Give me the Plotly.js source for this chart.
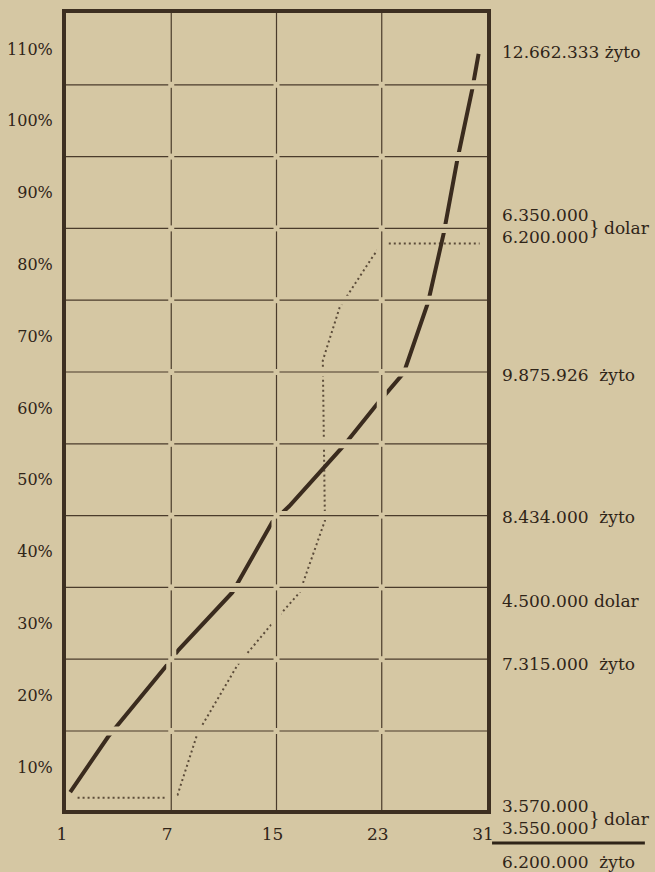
<!DOCTYPE html>
<html>
<head>
<meta charset="utf-8">
<script src="https://cdn.plot.ly/plotly-3.0.1.min.js"></script>
<style>
  html, body { margin: 0; padding: 0; background: #d5c7a3; }
  #chart { width: 655px; height: 872px; }
</style>
</head>
<body>
<div id="chart"></div>
<script>
// ---- data ----
const dayLabels = ['1', '7', '15', '23', '31'];
const dayPositions = [0, 1, 2, 3, 4];
const pctValues = [10, 20, 30, 40, 50, 60, 70, 80, 90, 100, 110];
const pctLabels = ['10%', '20%', '30%', '40%', '50%', '60%', '70%', '80%', '90%', '100%', '110%'];
const gridPct = [15, 25, 35, 45, 55, 65, 75, 85, 95, 105];
const gridPos = [1, 2, 3];
const yRange = [4, 115];

// żyto (rye) series – heavy line
const zytoX = [0.04, 0.40, 0.96, 1.07, 1.58, 1.96, 2.12, 2.63, 2.96, 3.21, 3.44, 3.59, 3.72, 3.86, 3.92];
const zytoY = [6.5, 14.2, 24.2, 26.3, 34.3, 44.1, 46.3, 54.6, 60.6, 64.9, 74.7, 84.4, 94.7, 104.4, 109.3];

// dolar series – dotted line
const dolarX = [0.11, 0.97, 1.06, 1.25, 1.63, 1.96, 2.22, 2.46, 2.44, 2.60, 2.92, 3.01, 3.93];
const dolarY = [5.7, 5.7, 6.1, 14.7, 24.2, 30.0, 34.3, 44.3, 66.6, 74.0, 81.2, 82.9, 82.9];

// right-hand value labels and the level (in %) they sit at
const rightTexts = ['12.662.333 żyto', '9.875.926\u00a0\u00a0żyto', '8.434.000\u00a0\u00a0żyto',
                    '4.500.000\u00a0dolar', '7.315.000\u00a0\u00a0żyto'];
const rightLevels = [109.6, 64.6, 44.8, 33.1, 24.3];
const pairTexts = ['6.350.000<br>6.200.000', '3.570.000<br>3.550.000'];
const pairLevels = [85.3, 3.0];
const pairUnit = 'dolar';
const baseText = '6.200.000\u00a0\u00a0żyto';
const baseLevel = -3.2;
const ruleLevel = -0.6;

// ---- styling ----
const BG = '#d5c7a3';
const INK = '#2f2418';
const GRID = '#4a3b2b';
const FONT = 'DejaVu Serif';
const toPaper = v => (v - yRange[0]) / (yRange[1] - yRange[0]);

const traces = [
  { x: dolarX, y: dolarY, mode: 'lines', type: 'scatter',
    line: { color: '#5c4c3a', width: 2, dash: '2px,3px' }, hoverinfo: 'skip' },
  { x: zytoX, y: zytoY, mode: 'lines', type: 'scatter',
    line: { color: '#3a2b1e', width: 4 }, hoverinfo: 'skip' }
];

const shapes = [];
// paper-coloured halos that break the lines where gridlines cross them
gridPct.forEach(v => shapes.push({ type: 'line', xref: 'x', yref: 'y', x0: 0, x1: 4, y0: v, y1: v,
  line: { color: BG, width: 9 }, layer: 'above' }));
gridPos.forEach(v => shapes.push({ type: 'line', xref: 'x', yref: 'y', x0: v, x1: v, y0: yRange[0], y1: yRange[1],
  line: { color: BG, width: 10 }, layer: 'above' }));
// gridlines
gridPct.forEach(v => shapes.push({ type: 'line', xref: 'x', yref: 'y', x0: 0, x1: 4, y0: v, y1: v,
  line: { color: GRID, width: 1.2 }, layer: 'above' }));
gridPos.forEach(v => shapes.push({ type: 'line', xref: 'x', yref: 'y', x0: v, x1: v, y0: yRange[0], y1: yRange[1],
  line: { color: GRID, width: 1.2 }, layer: 'above' }));
// small gaps at the grid intersections
gridPos.forEach(gx => gridPct.forEach(gy => shapes.push({
  type: 'rect', xref: 'x', yref: 'y', xsizemode: 'pixel', ysizemode: 'pixel',
  xanchor: gx, yanchor: gy, x0: -3, x1: 3, y0: -3, y1: 3,
  fillcolor: BG, line: { width: 0 }, layer: 'above' })));
// rule under the bottom-right figures
shapes.push({ type: 'line', xref: 'paper', yref: 'paper', x0: 1.012, x1: 1.375,
  y0: toPaper(ruleLevel), y1: toPaper(ruleLevel), line: { color: INK, width: 3 } });

const annotations = [];
const tf = { family: FONT, size: 17, color: INK };
rightTexts.forEach((t, i) => annotations.push({ xref: 'paper', yref: 'paper', x: 1.031, y: toPaper(rightLevels[i]),
  text: t, showarrow: false, xanchor: 'left', yanchor: 'middle', font: tf }));
pairTexts.forEach((t, i) => {
  annotations.push({ xref: 'paper', yref: 'paper', x: 1.031, y: toPaper(pairLevels[i]), text: t, showarrow: false,
    xanchor: 'left', yanchor: 'middle', align: 'left', font: tf });
  annotations.push({ xref: 'paper', yref: 'paper', x: 1.2565, y: toPaper(pairLevels[i]), text: '}', showarrow: false,
    xanchor: 'center', yanchor: 'middle', font: { family: 'Liberation Serif', size: 22, color: INK } });
  annotations.push({ xref: 'paper', yref: 'paper', x: 1.273, y: toPaper(pairLevels[i] - 0.2), text: pairUnit, showarrow: false,
    xanchor: 'left', yanchor: 'middle', font: tf });
});
annotations.push({ xref: 'paper', yref: 'paper', x: 1.031, y: toPaper(baseLevel), text: baseText, showarrow: false,
  xanchor: 'left', yanchor: 'middle', font: tf });

const layout = {
  width: 655, height: 872,
  margin: { l: 66, r: 168, t: 13, b: 62, pad: 0 },
  paper_bgcolor: BG, plot_bgcolor: BG,
  showlegend: false,
  xaxis: {
    range: [0, 4], tickmode: 'array', tickvals: dayPositions, ticktext: dayLabels,
    showgrid: false, zeroline: false, showline: true, mirror: true,
    linewidth: 4, linecolor: '#3d2f21', ticks: '',
    tickfont: { family: FONT, size: 17, color: INK },
    ticklabelshift: -4, ticklabelstandoff: 6
  },
  yaxis: {
    range: yRange, tickmode: 'array', tickvals: pctValues, ticktext: pctLabels,
    showgrid: false, zeroline: false, showline: true, mirror: true,
    linewidth: 4, linecolor: '#3d2f21', ticks: '',
    tickfont: { family: FONT, size: 16, color: INK },
    ticklabelstandoff: 6
  },
  shapes: shapes,
  annotations: annotations
};

Plotly.newPlot('chart', traces, layout, { staticPlot: true, displayModeBar: false });
</script>
</body>
</html>
